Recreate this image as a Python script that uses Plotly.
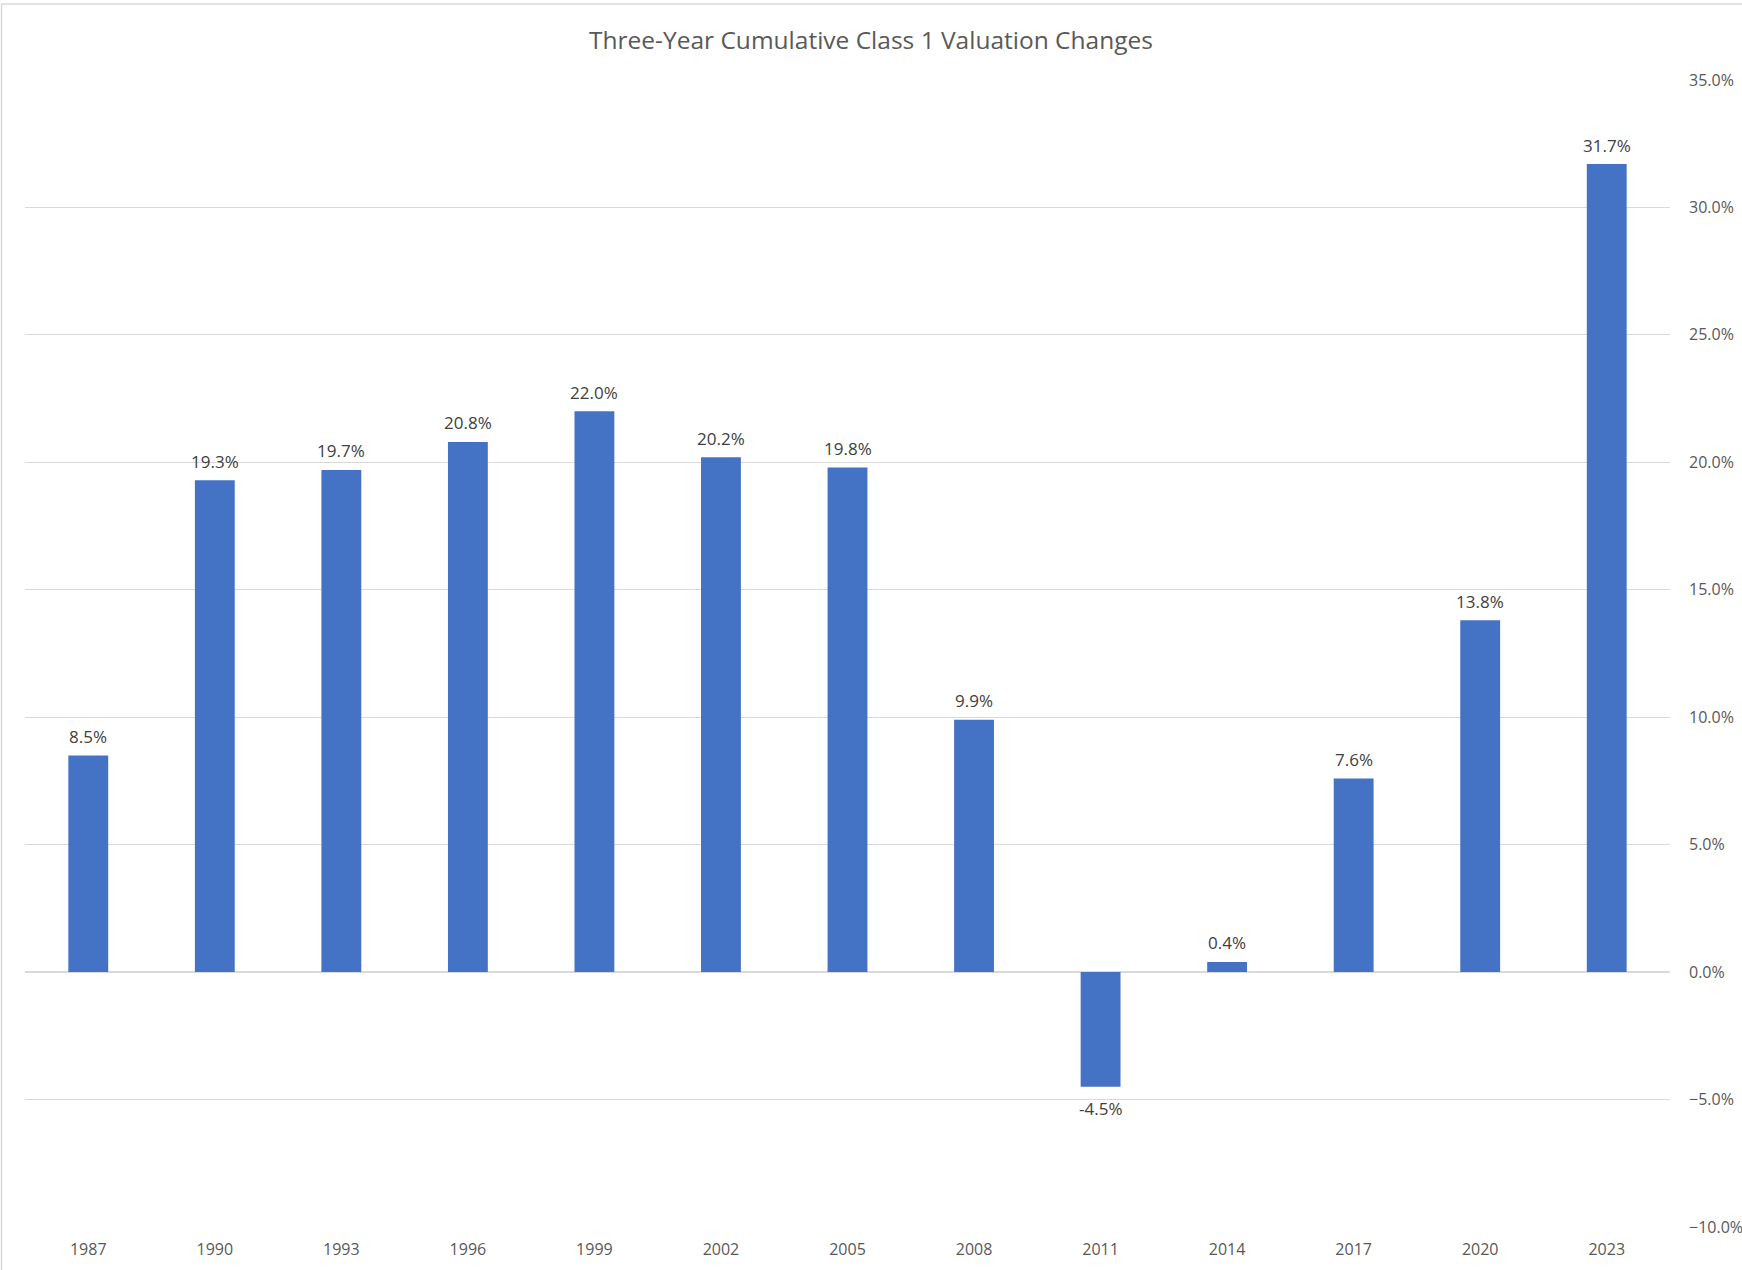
import plotly.graph_objects as go

years = ["1987", "1990", "1993", "1996", "1999", "2002", "2005", "2008", "2011", "2014", "2017", "2020", "2023"]
changes = [8.5, 19.3, 19.7, 20.8, 22.0, 20.2, 19.8, 9.9, -4.5, 0.4, 7.6, 13.8, 31.7]
title_text = "Three-Year Cumulative Class 1 Valuation Changes"

W, H = 1742, 1270
ml, mr, mt, mb = 25, 72, 80, 43
pw, ph = W - ml - mr, H - mt - mb

fig = go.Figure(go.Bar(
    x=years, y=changes,
    marker=dict(color="#4472C4", line=dict(width=0)),
))

annotations = []
for i, v in enumerate(changes):
    annotations.append(dict(
        x=i, y=v, xref="x", yref="y", text=f"{v:.1f}%", showarrow=False,
        yanchor="middle", yshift=19 if v >= 0 else -22,
        font=dict(family="Open Sans", size=17, color="#404040"),
    ))

fig.update_layout(
    width=W, height=H,
    margin=dict(l=ml, r=mr, t=mt, b=mb, autoexpand=False),
    paper_bgcolor="white", plot_bgcolor="white",
    bargap=0.685,
    showlegend=False,
    title=dict(text=title_text, x=0.5, xanchor="center", y=1 - 40 / H, yanchor="middle",
               font=dict(family="Open Sans", size=24.5, color="#595959")),
    xaxis=dict(type="category", categoryorder="array", categoryarray=years,
               range=[-0.5, len(years) - 0.5], automargin=False,
               showgrid=False, zeroline=False, showline=False,
               ticks="outside", ticklen=8, tickcolor="rgba(0,0,0,0)",
               tickfont=dict(family="Open Sans", size=16, color="#595959")),
    yaxis=dict(side="right", range=[-10, 35], dtick=5, tick0=0, automargin=False,
               tickformat=".1f", ticksuffix="%",
               showgrid=True, gridcolor="#d9d9d9", gridwidth=1.3,
               zeroline=True, zerolinecolor="#d9d9d9", zerolinewidth=1.5,
               showline=False, ticks="", ticklabelstandoff=18,
               tickfont=dict(family="Open Sans", size=16, color="#595959")),
    annotations=annotations,
    shapes=[dict(type="rect", xref="paper", yref="paper",
                 x0=(1.5 - ml) / pw, x1=(W + 3 - ml) / pw,
                 y0=-(H + 3 - (H - mb)) / ph, y1=1 + (mt - 4) / ph,
                 line=dict(color="#d9d9d9", width=1.5), layer="below")],
)

fig.write_html("out.html")
